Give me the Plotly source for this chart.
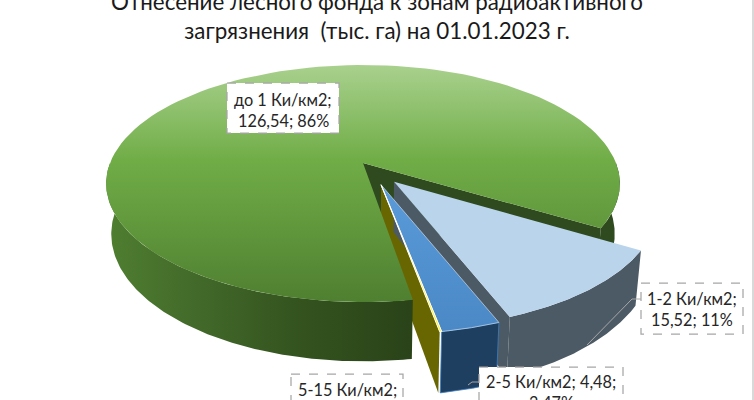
import numpy as np
import plotly.graph_objects as go

categories = ["до 1 Ки/км2", "1-2 Ки/км2", "2-5 Ки/км2", "5-15 Ки/км2"]
values = [126.54, 15.52, 4.48, 0.15]
value_labels = ["126,54", "15,52", "4,48"]
percent_labels = ["86%", "11%", "3,47%"]
title_lines = ["Отнесение лесного фонда к зонам радиоактивного", "загрязнения  (тыс. га) на 01.01.2023 г."]

FIRST_ANGLE = 170.6
EXPLODE = [0.0, 0.175, 0.19, 0.19]
SLICE_DX = [0, 2, 9, 9]
SLICE_DY = [0, 3, 0, 0]
APEX_DX = [0, 0, -4, -4]
CX, CY, RX, RY, K, DEPTH, SHRINK = 363, 163, 253, 115, 0.173, 49, 0.98

def project(u, v, low=False):
    s = 1 / (1 + K * v)
    x = RX * u * s
    y = CY - RY * v * s
    if low:
        return CX + x * SHRINK, y + DEPTH * s
    return CX + x, y

def sector(i):
    total = sum(values)
    a0 = FIRST_ANGLE + 360 * sum(values[:i]) / total
    a1 = a0 + 360 * values[i] / total
    # the thinnest slice travels with its neighbour
    j = 2 if i == 3 else i
    b0 = FIRST_ANGLE + 360 * sum(values[:j]) / total
    mid = np.radians(b0 + 180 * values[j] / total)
    return a0, a1, EXPLODE[i] * np.sin(mid), EXPLODE[i] * np.cos(mid)

def arc(i, a0, a1, low=False, n=120):
    _, _, ou, ov = sector(i)
    t = np.radians(np.linspace(a0, a1, n))
    x, y = project(ou + np.sin(t), ov + np.cos(t), low)
    return x + SLICE_DX[i], y + SLICE_DY[i]

def apex(i, low=False):
    _, _, ou, ov = sector(i)
    x, y = project(np.array([ou]), np.array([ov]), low)
    return x + SLICE_DX[i] + APEX_DX[i], y + SLICE_DY[i]

fig = go.Figure()

def poly(x, y, color=None, grad=None, line=None, lw=0):
    x = np.concatenate([np.ravel(p) for p in x]); y = np.concatenate([np.ravel(p) for p in y])
    t = dict(x=np.r_[x, x[0]], y=np.r_[y, y[0]], mode="lines", fill="toself",
             line=dict(width=lw, color=line or "rgba(0,0,0,0)"), hoverinfo="skip", showlegend=False)
    if grad:
        t["fillgradient"] = grad
    else:
        t["fillcolor"] = color
    fig.add_trace(go.Scatter(**t))

def top(i, **kw):
    a0, a1, _, _ = sector(i)
    ax, ay = apex(i); x, y = arc(i, a0, a1)
    poly([ax, x], [ay, y], **kw)

def outer(i, a0, a1, **kw):
    x, y = arc(i, a0, a1); xl, yl = arc(i, a0, a1, True)
    poly([x, xl[::-1]], [y, yl[::-1]], **kw)

def radial(i, a, **kw):
    ax, ay = apex(i); axl, ayl = apex(i, True)
    x, y = arc(i, a, a, n=1); xl, yl = arc(i, a, a, True, n=1)
    poly([ax, x, xl, axl], [ay, y, yl, ayl], **kw)

a = [sector(i) for i in range(4)]
# back walls first
outer(0, 90, a[0][1] - 360, color="#2E4A1E")
radial(0, a[0][1], color="#2E4A1E")
radial(3, a[3][1], color="#686600")
# green body
outer(0, a[0][0], 270, grad=dict(type="horizontal", start=105, stop=412,
      colorscale=[[0, "#4F7F30"], [0.3, "#42692A"], [0.65, "#33521E"], [1, "#2A4319"]]))
top(0, grad=dict(type="vertical", start=65, stop=302,
    colorscale=[[0, "#A9D18E"], [0.4, "#70AD47"], [1, "#4F7F30"]]))
# light-blue slice
radial(1, a[1][1], color="#4C5A66")
outer(1, a[1][0], a[1][1], color="#4C5A66")
top(1, color="#BAD4EC")
# blue slice
outer(2, a[2][0], a[2][1], color="#1F3F60", line="#3F7FC0", lw=0.8)
top(2, grad=dict(type="vertical", start=184, stop=330,
    colorscale=[[0, "#5B9BD9"], [1, "#4A88C6"]]), line="#DDEBF7", lw=0.6)
# thin slice
top(3, color="#FFF200", line="#FFFFFF", lw=1)

fig.update_layout(
    width=754, height=400, margin=dict(l=0, r=0, t=0, b=0), autosize=False,
    paper_bgcolor="white", plot_bgcolor="white",
    xaxis=dict(range=[0, 754], visible=False, fixedrange=True),
    yaxis=dict(range=[400, 0], visible=False, fixedrange=True),
    font=dict(family="Lato", color="#262626"),
    title=dict(text="<br>".join(title_lines), x=0.5, xanchor="center", y=0.975, yref="container",
               yanchor="middle", font=dict(family="Lato", size=22.4, color="#1A1A1A")),
)

GREY = "#A6A6A6"
def rect(x0, y0, x1, y1, fill):
    fig.add_shape(type="rect", x0=x0, y0=y0, x1=x1, y1=y1, xref="x", yref="y",
                  fillcolor=fill, line=dict(color=GREY, width=1.25, dash="dash"), layer="above")
def leader(xs, ys):
    fig.add_trace(go.Scatter(x=xs, y=ys, mode="lines", line=dict(color=GREY, width=1), hoverinfo="skip", showlegend=False))

leader([587, 632, 641], [345, 299, 299])
leader([468, 472, 479], [385, 382, 382])
rect(227, 83, 339, 133, "white")
rect(641, 283, 743, 334, "white")
rect(479, 367, 623, 420, "white")
rect(291, 374, 403, 430, "white")
fig.add_shape(type="rect", x0=752, x1=754, y0=0, y1=400, xref="x", yref="y",
              fillcolor="#D9D9D9", line=dict(width=0), layer="above")

def label(cx, y1, lines):
    for k, txt in enumerate(lines):
        y = y1 + 21 * k
        anchor_y = min(y, 399)
        fig.add_annotation(x=cx, y=anchor_y, yshift=anchor_y - y, text=txt, xref="x", yref="y", showarrow=False,
                           font=dict(family="Lato", size=16.3, color="#262626"), xanchor="center", yanchor="middle")

label(283, 99, [categories[0] + ";", f"{value_labels[0]}; {percent_labels[0]}"])
label(692, 298, [categories[1] + ";", f"{value_labels[1]}; {percent_labels[1]}"])
label(551, 381, [f"{categories[2]}; {value_labels[2]};", percent_labels[2]])
label(347, 389, [categories[3] + ";"])

fig.write_html("out.html", config=dict(displayModeBar=False),
               post_script="document.body.style.margin='0';document.documentElement.style.overflow='hidden';")
